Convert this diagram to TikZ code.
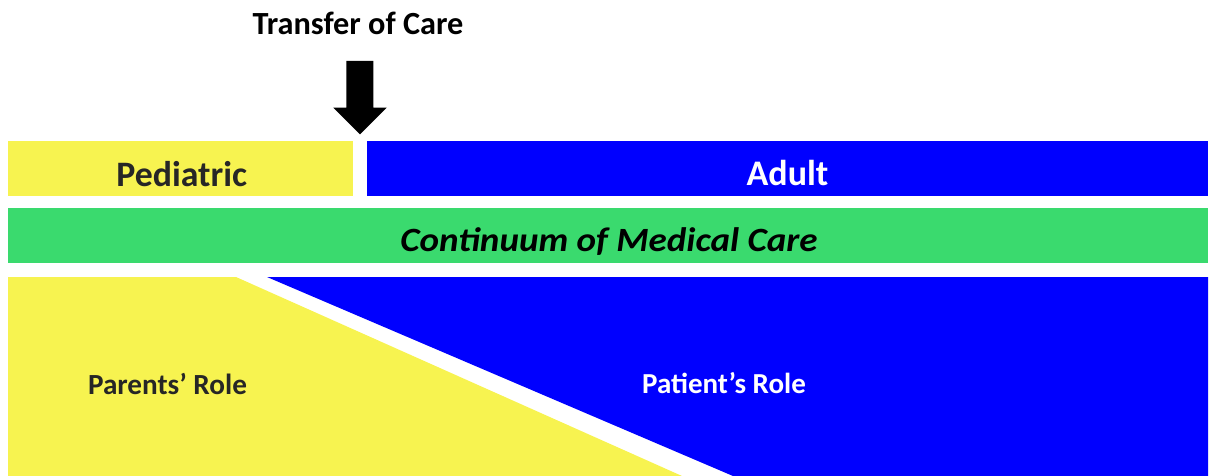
\documentclass[tikz,border=0pt]{standalone}
\usepackage{fontspec}
\setmainfont{Carlito}
\definecolor{pedyellow}{HTML}{F7F350}
\definecolor{adblue}{HTML}{0000FF}
\definecolor{contgreen}{HTML}{3ADA6E}
\definecolor{darktext}{HTML}{262626}
\tikzset{
  lbl/.style={anchor=base, inner sep=0pt, font=\bfseries},
}
\begin{document}
\begin{tikzpicture}[x=1pt,y=-1pt]
\useasboundingbox (0,0) rectangle (1209,476);
% top bars
\fill[pedyellow] (8,141) rectangle (353,196);
\fill[adblue] (367,141) rectangle (1208,196);
% green continuum
\fill[contgreen] (8,208) rectangle (1208,263);
% bottom role regions
\fill[pedyellow] (8,277) -- (236,277) -- (682,476) -- (8,476) -- cycle;
\fill[adblue] (267,277) -- (1208,277) -- (1208,476) -- (733,476) -- cycle;
% arrow
\fill[black] (346.3,61) -- (373.3,61) -- (373.3,107.7) -- (386.7,107.7) -- (360,134.3) -- (333.3,107.7) -- (346.3,107.7) -- cycle;
% labels
\node[lbl, text=black, font=\fontsize{32.3}{36}\selectfont\bfseries] (transfer) at (358,34.3) {Transfer of Care};
\node[lbl, text=darktext, font=\fontsize{35.8}{40}\selectfont\bfseries] (ped) at (181.7,186) {Pediatric};
\node[lbl, text=white, font=\fontsize{36}{40}\selectfont\bfseries] (adult) at (787.5,185) {Adult};
\node[lbl, text=black, font=\fontsize{34}{40}\selectfont\bfseries\itshape, xscale=1.09] (cont) at (609,251.7) {Continuum of Medical Care};
\node[lbl, text=darktext, font=\fontsize{29.2}{34}\selectfont\bfseries] (parents) at (167.5,394.3) {Parents’ Role};
\node[lbl, text=white, font=\fontsize{29}{34}\selectfont\bfseries] (patient) at (724,393.5) {Patient’s Role};
\end{tikzpicture}
\end{document}
